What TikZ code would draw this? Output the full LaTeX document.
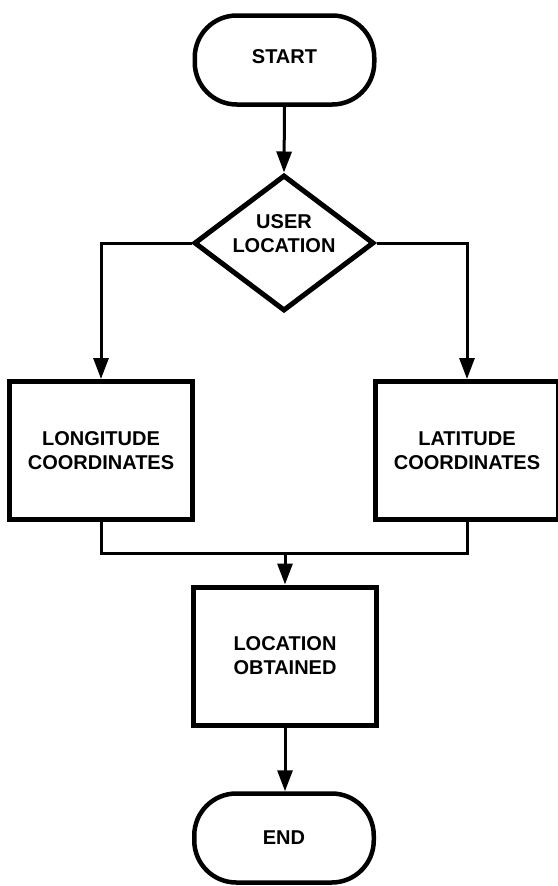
\documentclass[tikz,border=0pt]{standalone}
\usepackage{fontspec}
\setmainfont{Liberation Sans}
\usetikzlibrary{shapes.geometric,arrows.meta}
\begin{document}
\begin{tikzpicture}[x=1pt,y=-1pt,
  every node/.style={font=\bfseries\fontsize{20}{24}\selectfont, align=center, inner sep=0pt},
  terminal/.style={draw, line width=4.5pt, minimum width=179.5pt, minimum height=89pt, rounded corners=42pt},
  procbox/.style={draw, line width=5pt, minimum width=183pt, minimum height=138pt},
  decision/.style={draw, diamond, aspect=1.32, line width=5pt, minimum width=180pt, minimum height=136pt},
  conn/.style={line width=3pt},
  arr/.style={conn, -{Triangle[length=21pt,width=15pt]}}
]
\useasboundingbox (0,0) rectangle (557,886);
\node[terminal, label={[yshift=3pt]center:START}] (start) at (284.5,60) {};
\node[decision, label={[yshift=9pt]center:{USER\\LOCATION}}] (dec) at (284,243) {};
\node[procbox] (lon) at (101,450.5) {LONGITUDE\\COORDINATES};
\node[procbox] (lat) at (467,450.5) {LATITUDE\\COORDINATES};
\node[procbox] (loc) at (285,656) {LOCATION\\OBTAINED};
\node[terminal] (end) at (284,838) {END};
\coordinate (j) at (285,553);
\draw[arr] (start.south) -- (dec.north);
\draw[arr] (dec.west) -| (lon.north);
\draw[arr] (dec.east) -| (lat.north);
\draw[conn] (lon.south) |- (j) -| (lat.south);
\draw[arr] (j) -- (loc.north);
\draw[arr] (loc.south) -- (loc.south |- end.north);
\end{tikzpicture}
\end{document}
